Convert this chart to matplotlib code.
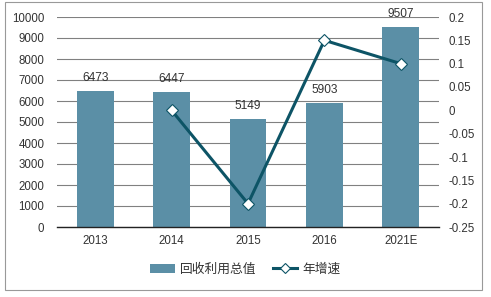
import matplotlib.pyplot as plt
from matplotlib.patches import Rectangle

plt.rcParams['font.family'] = ['Liberation Sans', 'Noto Sans CJK SC', 'DejaVu Sans']

years = ["2013", "2014", "2015", "2016", "2021E"]
total_value = [6473, 6447, 5149, 5903, 9507]
growth_years = ["2014", "2015", "2016", "2021E"]
growth_rate = [0.0, -0.2, 0.15, 0.1]

bar_color = "#5B8FA6"
line_color = "#0D5466"
text_color = "#333333"
fs = 8.3

fig = plt.figure(figsize=(4.91, 2.97), dpi=100)
ax = fig.add_axes([57 / 491, 70 / 297, 382 / 491, 210 / 297])

x = list(range(len(years)))
bars = ax.bar(x, total_value, width=0.48, color=bar_color, zorder=2, label="回收利用总值")
for xi, v in zip(x, total_value):
    ax.annotate(str(v), (xi, v), xytext=(0, 5), textcoords="offset points",
                ha="center", va="bottom", fontsize=8.6, color=text_color)

ax.set_ylim(0, 10000)
ax.set_yticks(range(0, 10001, 1000))
ax.set_xlim(-0.5, len(years) - 0.5)
ax.set_xticks(x)
ax.set_xticklabels(years)
ax.grid(axis="y", color="#808080", linewidth=0.8, zorder=0)
ax.set_axisbelow(True)
for s in ["top", "right", "left"]:
    ax.spines[s].set_visible(False)
ax.spines["bottom"].set_color("#222222")
ax.spines["bottom"].set_linewidth(1.0)
ax.tick_params(axis="both", length=0, labelsize=fs, colors=text_color)
ax.tick_params(axis="x", pad=6)
ax.tick_params(axis="y", pad=9)

ax2 = ax.twinx()
gx = [years.index(g) for g in growth_years]
line, = ax2.plot(gx, growth_rate, color=line_color, linewidth=2.2, marker="D",
                 markersize=6, markerfacecolor="white", markeredgecolor=line_color,
                 markeredgewidth=0.8, zorder=3, label="年增速")
ax2.set_ylim(-0.25, 0.2)
ticks = [0.2, 0.15, 0.1, 0.05, 0, -0.05, -0.1, -0.15, -0.2, -0.25]
ax2.set_yticks(ticks)
ax2.set_yticklabels(["0.2", "0.15", "0.1", "0.05", "0", "-0.05", "-0.1", "-0.15", "-0.2", "-0.25"])
for s in ax2.spines.values():
    s.set_visible(False)
ax2.tick_params(axis="y", length=0, labelsize=fs, colors=text_color, pad=7)

leg = fig.legend([bars, line], ["回收利用总值", "年增速"], loc="center", bbox_to_anchor=(0.5, 28 / 297),
                 ncol=2, frameon=False, handlelength=1.9, handletextpad=0.4,
                 columnspacing=1.3, markerscale=0.8,
                 prop={"family": ["Noto Sans CJK SC"], "size": 9.2})
for t in leg.get_texts():
    t.set_color(text_color)

fig.patches.append(Rectangle((5 / 491, 7 / 297), 477 / 491, 288 / 297, transform=fig.transFigure,
                             fill=False, edgecolor="#999999", linewidth=0.8))

fig.savefig("out.png", dpi=100)
